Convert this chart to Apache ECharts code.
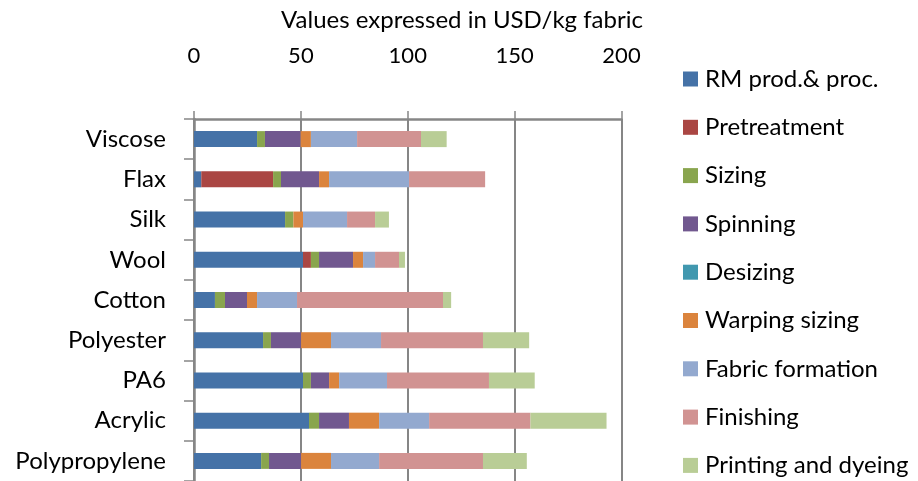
<!DOCTYPE html>
<html>
<head>
<meta charset="utf-8">
<script src="https://cdn.jsdelivr.net/npm/echarts@6/dist/echarts.min.js"></script>
<style>
html, body { margin: 0; padding: 0; background: #fff; }
#chart { width: 918px; height: 481px; }
</style>
</head>
<body>
<div id="chart"></div>
<script>
// Fabric types, top to bottom
const fabrics = ['Viscose', 'Flax', 'Silk', 'Wool', 'Cotton', 'Polyester', 'PA6', 'Acrylic', 'Polypropylene'];

// Cost per process step, USD/kg fabric
const rmProd      = [29.5,  3.4, 42.6, 51.0,  9.8, 32.3, 51.0, 53.8, 31.4];
const pretreat    = [ 0,   33.6,  0,    3.7,  0,    0,    0,    0,    0  ];
const sizing      = [ 3.7,  3.7,  3.9,  3.8,  4.7,  3.7,  3.7,  4.7,  3.7];
const spinning    = [16.7, 17.8,  0,   15.9, 10.3, 14.1,  8.5, 14.0, 15.0];
const desizing    = [ 0,    0,    0,    0,    0,    0,    0,    0,    0  ];
const warping     = [ 4.8,  4.7,  4.5,  4.7,  4.7, 14.0,  4.7, 14.1, 14.0];
const fabricForm  = [21.6, 37.4, 20.6,  5.6, 18.7, 23.4, 22.4, 23.4, 22.5];
const finishing   = [29.9, 35.6, 13.1, 11.2, 68.3, 47.7, 47.7, 47.4, 48.6];
const printDye    = [12.0,  0,    6.5,  2.8,  3.8, 21.6, 21.4, 35.6, 20.5];

const stepNames = ['RM prod.& proc.', 'Pretreatment', 'Sizing', 'Spinning', 'Desizing',
                   'Warping sizing', 'Fabric formation', 'Finishing', 'Printing and dyeing'];
const stepData = [rmProd, pretreat, sizing, spinning, desizing, warping, fabricForm, finishing, printDye];
const stepColors = ['#4572A7', '#AA4643', '#89A54E', '#71588F', '#4198AF',
                    '#DB843D', '#93A9CF', '#D19392', '#B9CD96'];

const xTicks = { min: 0, max: 200, interval: 50 };

const FONT = 'Lato, "Open Sans", sans-serif';
const chart = echarts.init(document.getElementById('chart'), null, { renderer: 'canvas' });

chart.setOption({
  animation: false,
  color: stepColors,
  textStyle: { fontFamily: FONT, color: '#000' },
  title: {
    text: 'Values expressed in USD/kg fabric',
    left: 462,
    textAlign: 'center',
    top: 8,
    padding: 0,
    textStyle: { fontFamily: FONT, fontSize: 24, fontWeight: 'normal', color: '#000' }
  },
  legend: {
    orient: 'vertical',
    left: 683,
    top: 67,
    padding: 0,
    icon: 'rect',
    itemWidth: 15,
    itemHeight: 15,
    itemGap: 24.3,
    textStyle: { fontFamily: FONT, fontSize: 24, lineHeight: 24, color: '#000', padding: [0, 0, 0, 2] },
    data: stepNames
  },
  grid: { left: 194, top: 119, width: 427.5, height: 364, containLabel: false },
  xAxis: {
    type: 'value',
    position: 'top',
    min: xTicks.min,
    max: xTicks.max,
    interval: xTicks.interval,
    axisLine: { show: true, lineStyle: { color: '#868686', width: 2.5 } },
    axisTick: { show: true, length: 8, lineStyle: { color: '#868686', width: 1.5 } },
    axisLabel: { margin: 52, fontFamily: FONT, fontSize: 22, color: '#000' },
    splitLine: { show: true, lineStyle: { color: '#868686', width: 2 } }
  },
  yAxis: {
    type: 'category',
    inverse: true,
    data: fabrics,
    axisLine: { show: true, lineStyle: { color: '#868686', width: 2.5 } },
    axisTick: { show: true, length: 10, lineStyle: { color: '#868686', width: 1.5 } },
    axisLabel: { margin: 28, fontFamily: FONT, fontSize: 24, color: '#000' }
  },
  series: stepNames.map((name, i) => ({
    name: name,
    type: 'bar',
    stack: 'cost',
    barWidth: 16,
    data: stepData[i],
    itemStyle: { color: stepColors[i] }
  }))
});
</script>
</body>
</html>
